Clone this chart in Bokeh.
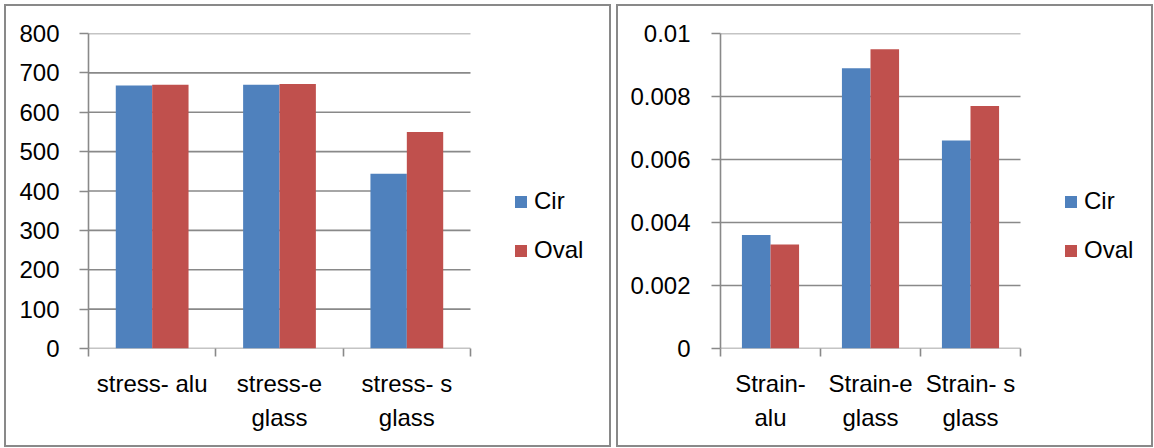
from bokeh.plotting import figure
from bokeh.layouts import row
from bokeh.models import Range1d, FixedTicker, ColumnDataSource, Legend, LegendItem
from bokeh.transform import dodge
from bokeh.embed import file_html
from bokeh.resources import INLINE

# ---- data ----
stress_categories = ["stress- alu", "stress-e\nglass", "stress- s\nglass"]
stress_cir = [668, 670, 444]
stress_oval = [670, 672, 550]
stress_ticks = [0, 100, 200, 300, 400, 500, 600, 700, 800]
stress_tick_labels = ["0", "100", "200", "300", "400", "500", "600", "700", "800"]

strain_categories = ["Strain-\nalu", "Strain-e\nglass", "Strain- s\nglass"]
strain_cir = [0.0036, 0.0089, 0.0066]
strain_oval = [0.0033, 0.0095, 0.0077]
strain_ticks = [0, 0.002, 0.004, 0.006, 0.008, 0.01]
strain_tick_labels = ["0", "0.002", "0.004", "0.006", "0.008", "0.01"]

series_names = ["Cir", "Oval"]

# ---- style ----
FONT = "Liberation Sans"
FS = "24px"
GRAY = "#898989"
CIR_COLOR = "#4F81BD"
OVAL_COLOR = "#C0504D"
BAR_W = 1 / 3.5  # Excel gap width 150%


def make_chart(cats, cir, oval, yticks, ylabels, ymax, width, height,
               mb_left, cat_px, y_standoff, legend_x):
    n = len(cats)
    mb_right = 2
    frame_w = width - mb_left - mb_right
    # x range extended to the right so the legend area lies inside the frame
    x_end = n * frame_w / (n * cat_px)
    p = figure(width=width, height=height, output_backend="svg",
               toolbar_location=None,
               x_range=Range1d(0, x_end), y_range=Range1d(0, ymax),
               min_border_left=mb_left, min_border_right=mb_right,
               min_border_top=27, min_border_bottom=101)
    p.outline_line_color = None
    p.background_fill_color = "white"
    p.border_fill_color = "white"

    # gridlines (and category baseline) only across the category area
    p.segment(x0=[0] * len(yticks), x1=[n] * len(yticks), y0=yticks, y1=yticks,
              line_color=GRAY, line_width=1.6)

    centers = [i + 0.5 for i in range(n)]
    src = ColumnDataSource(dict(x=centers, cir=cir, oval=oval))
    r1 = p.vbar(x=dodge("x", -BAR_W / 2), top="cir", width=BAR_W, source=src,
                fill_color=CIR_COLOR, line_color=None)
    r2 = p.vbar(x=dodge("x", BAR_W / 2), top="oval", width=BAR_W, source=src,
                fill_color=OVAL_COLOR, line_color=None)

    # y axis
    yt = FixedTicker(ticks=yticks)
    p.yaxis.ticker = yt
    p.yaxis.major_label_overrides = {t: l for t, l in zip(yticks, ylabels)}
    p.yaxis.major_tick_out = 9
    p.yaxis.major_tick_in = 0
    p.yaxis.major_tick_line_color = GRAY
    p.yaxis.major_tick_line_width = 1.6
    p.yaxis.minor_tick_line_color = None
    p.yaxis.axis_line_color = GRAY
    p.yaxis.axis_line_width = 1.6
    p.yaxis.major_label_text_font = FONT
    p.yaxis.major_label_text_font_size = FS
    p.yaxis.major_label_text_color = "black"
    p.yaxis.major_label_standoff = y_standoff

    p.ygrid.grid_line_color = None
    p.xgrid.grid_line_color = None

    # x axis
    p.xaxis.ticker = FixedTicker(ticks=centers, minor_ticks=list(range(n + 1)))
    p.xaxis.major_label_overrides = {c: l for c, l in zip(centers, cats)}
    p.xaxis.major_tick_line_color = None
    p.xaxis.major_tick_out = 8
    p.xaxis.major_tick_in = 0
    p.xaxis.minor_tick_out = 8
    p.xaxis.minor_tick_in = 0
    p.xaxis.minor_tick_line_color = GRAY
    p.xaxis.minor_tick_line_width = 1.6
    p.xaxis.axis_line_color = None
    p.xaxis.major_label_text_font = FONT
    p.xaxis.major_label_text_font_size = FS
    p.xaxis.major_label_text_color = "black"
    p.xaxis.major_label_text_line_height = 1.29
    p.xaxis.major_label_standoff = 13

    # legend
    leg = Legend(items=[LegendItem(label=series_names[0], renderers=[r1]),
                        LegendItem(label=series_names[1], renderers=[r2])],
                 location=(legend_x, 84))
    leg.border_line_color = None
    leg.background_fill_alpha = 0
    leg.padding = 0
    leg.margin = 0
    leg.glyph_width = 15
    leg.glyph_height = 15
    leg.label_standoff = 6
    leg.spacing = 21
    leg.label_height = 27
    leg.label_text_font = FONT
    leg.label_text_font_size = FS
    leg.label_text_color = "black"
    p.add_layout(leg, "center")

    p.styles = {"border": "2px solid " + GRAY}
    return p


p1 = make_chart(stress_categories, stress_cir, stress_oval, stress_ticks,
                stress_tick_labels, 800, 607, 443, 82, 127.33, 20, 425)
p2 = make_chart(strain_categories, strain_cir, strain_oval, strain_ticks,
                strain_tick_labels, 0.01, 537, 443, 102, 100.0, 21, 343)

layout = row(p1, p2, spacing=5)
layout.styles = {"margin-left": "4px", "margin-top": "4px"}

open("out.html", "w").write(file_html(layout, INLINE))
